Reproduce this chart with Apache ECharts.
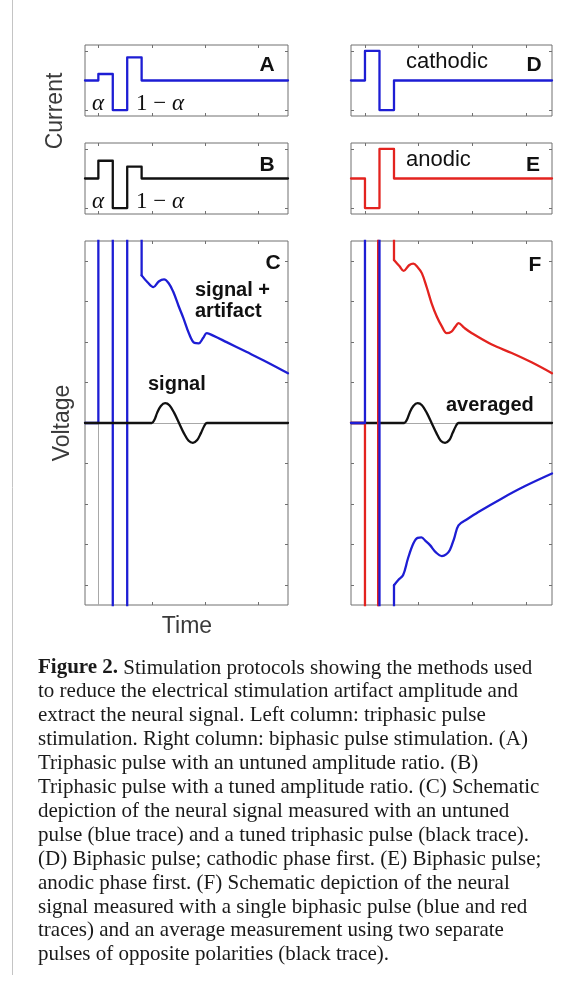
<!DOCTYPE html>
<html>
<head>
<meta charset="utf-8">
<script src="https://cdn.jsdelivr.net/npm/echarts@6/dist/echarts.min.js"></script>
<style>
html, body { margin: 0; padding: 0; background: #fff; }
#chart { width: 561px; height: 987px; }
</style>
</head>
<body>
<div id="chart"></div>
<script>
// phase edges of the stimulation pulses (time units, one tick = 1)
var phaseEdges = [0, 0.27, 0.54, 0.81];
var phaseEdgesRedF = [0, 0.245, 0.54];
// pulse amplitudes per phase
var ampA = [0.22, -1, 0.78];
var ampB = [0.6, -1, 0.4];
var ampD = [1, -1];
var ampE = [-1, 1];
// off-scale level used for the saturated artifact
var rail = 50;
var artifactC = [rail, -rail, rail];
var artifactBlueF = [rail, -rail];
var artifactRedF = [-rail, rail];

// tick values
var ticksX = [0, 1, 2, 3];
var ticksSmallY = [-1, 0, 1];
var ticksBigY = [-4, -3, -2, -1, 0, 1, 2, 3, 4];

// panel C: signal + artifact (blue) and tuned signal (black)
var curveC = [[0.81, 3.65], [0.92, 3.48], [1.03, 3.36], [1.13, 3.5], [1.23, 3.55], [1.32, 3.45],
  [1.4, 3.25], [1.5, 2.9], [1.59, 2.6], [1.7, 2.2], [1.8, 1.98], [1.88, 1.97], [1.96, 2.1],
  [2.03, 2.22], [2.15, 2.16], [2.4, 2.0], [2.77, 1.76], [3.15, 1.51], [3.55, 1.23]];
var signalC = [[1.0, 0], [1.05, 0.08], [1.1, 0.25], [1.17, 0.42], [1.25, 0.49], [1.33, 0.44],
  [1.42, 0.25], [1.51, 0], [1.6, -0.25], [1.69, -0.44], [1.77, -0.49], [1.85, -0.42],
  [1.92, -0.25], [1.98, -0.08], [2.03, 0]];

// panel F: anodic-first (red), cathodic-first (blue), averaged (black)
var curveRedF = [[0.54, 4.03], [0.64, 3.88], [0.72, 3.76], [0.82, 3.9], [0.9, 3.94], [0.98, 3.85],
  [1.06, 3.7], [1.15, 3.35], [1.24, 2.96], [1.34, 2.62], [1.43, 2.39], [1.52, 2.22],
  [1.61, 2.26], [1.68, 2.38], [1.74, 2.47], [1.85, 2.35], [1.99, 2.22], [2.36, 1.94],
  [2.73, 1.73], [3.1, 1.5], [3.48, 1.23]];
var curveBlueF = [[0.54, -4.01], [0.62, -3.88], [0.71, -3.76], [0.8, -3.35], [0.9, -2.98],
  [0.98, -2.84], [1.05, -2.83], [1.13, -2.92], [1.21, -3.02], [1.32, -3.2], [1.43, -3.29],
  [1.51, -3.25], [1.58, -3.14], [1.66, -2.85], [1.74, -2.53], [1.9, -2.38], [2.11, -2.2],
  [2.54, -1.87], [2.98, -1.56], [3.48, -1.25]];
var signalF = [[0.73, 0], [0.78, 0.08], [0.83, 0.25], [0.9, 0.42], [0.98, 0.49], [1.06, 0.44],
  [1.15, 0.25], [1.24, 0], [1.33, -0.25], [1.41, -0.44], [1.49, -0.49], [1.57, -0.42],
  [1.63, -0.25], [1.69, -0.08], [1.74, 0]];

var captionLines = [
  '{b|Figure 2.} Stimulation protocols showing the methods used',
  'to reduce the electrical stimulation artifact amplitude and',
  'extract the neural signal. Left column: triphasic pulse',
  'stimulation. Right column: biphasic pulse stimulation. (A)',
  'Triphasic pulse with an untuned amplitude ratio. (B)',
  'Triphasic pulse with a tuned amplitude ratio. (C) Schematic',
  'depiction of the neural signal measured with an untuned',
  'pulse (blue trace) and a tuned triphasic pulse (black trace).',
  '(D) Biphasic pulse; cathodic phase first. (E) Biphasic pulse;',
  'anodic phase first. (F) Schematic depiction of the neural',
  'signal measured with a single biphasic pulse (blue and red',
  'traces) and an average measurement using two separate',
  'pulses of opposite polarities (black trace).'
];

var BLUE = '#1d1dd4', RED = '#e3231f', BLACK = '#111111', GRAY = '#707070';
var SANS = "'Liberation Sans', Arial, sans-serif";
var SERIF = "'Liberation Serif', 'Times New Roman', serif";

var xRangeL = [-0.25, 3.55], xRangeR = [-0.26, 3.48];

// step trace: baseline, phases, back to baseline
function steps(edges, levels, x0, x1) {
  var d = [[x0, 0], [edges[0], 0]];
  for (var i = 0; i < levels.length; i++) {
    d.push([edges[i], levels[i]], [edges[i + 1], levels[i]]);
  }
  d.push([edges[levels.length], 0], [x1, 0]);
  return d;
}
// artifact: baseline then saturated phases, ends at the start of the decay curve
function artifact(edges, levels, x0, curveStart) {
  var d = [[x0, 0], [edges[0], 0]];
  for (var i = 0; i < levels.length; i++) {
    d.push([edges[i], levels[i]], [edges[i + 1], levels[i]]);
  }
  d.push(curveStart);
  return d;
}

var gridBox = [
  { left: 85, top: 45, width: 203, height: 71 },
  { left: 85, top: 143, width: 203, height: 71 },
  { left: 85, top: 241, width: 203, height: 364 },
  { left: 351, top: 45, width: 201, height: 71 },
  { left: 351, top: 143, width: 201, height: 71 },
  { left: 351, top: 241, width: 201, height: 364 }
];

var grids = [], xAxes = [], yAxes = [];
gridBox.forEach(function (g, i) {
  grids.push(Object.assign({ show: true, borderColor: GRAY, borderWidth: 1, backgroundColor: 'transparent' }, g));
  var xr = i < 3 ? xRangeL : xRangeR;
  var big = i % 3 === 2;
  ['bottom', 'top'].forEach(function (pos) {
    xAxes.push({
      type: 'value', gridIndex: i, position: pos, min: xr[0], max: xr[1],
      axisLine: { show: false, onZero: false }, splitLine: { show: false }, axisLabel: { show: false },
      axisTick: { show: true, inside: true, length: 3, customValues: ticksX, lineStyle: { color: GRAY } }
    });
  });
  ['left', 'right'].forEach(function (pos) {
    yAxes.push({
      type: 'value', gridIndex: i, position: pos,
      min: big ? -4.5 : -1.2, max: big ? 4.5 : 1.2,
      axisLine: { show: false, onZero: false }, splitLine: { show: false }, axisLabel: { show: false },
      axisTick: { show: true, inside: true, length: 3, customValues: big ? ticksBigY : ticksSmallY, lineStyle: { color: GRAY } }
    });
  });
});

function line(gi, data, color, smooth, extra) {
  return Object.assign({
    type: 'line', xAxisIndex: gi * 2, yAxisIndex: gi * 2, data: data,
    symbol: 'none', smooth: smooth ? 0.35 : false, clip: true, silent: true,
    lineStyle: { color: color, width: 2.3, join: 'round', cap: 'round' }
  }, extra || {});
}

var zeroLines = {
  silent: true, symbol: ['none', 'none'], z: 1, label: { show: false },
  lineStyle: { color: '#a8a8a8', width: 1, type: 'solid' },
  emphasis: { disabled: true },
  data: [{ yAxis: 0 }, { xAxis: 0 }]
};

var series = [
  line(0, steps(phaseEdges, ampA, xRangeL[0], xRangeL[1]), BLUE),
  line(1, steps(phaseEdges, ampB, xRangeL[0], xRangeL[1]), BLACK),
  line(2, artifact(phaseEdges, artifactC, xRangeL[0], curveC[0]), BLUE, false, { markLine: zeroLines }),
  line(2, curveC, BLUE, true),
  line(2, [[xRangeL[0], 0]].concat(signalC, [[xRangeL[1], 0]]), BLACK, true),
  line(3, steps(phaseEdges.slice(0, 3), ampD, xRangeR[0], xRangeR[1]), BLUE),
  line(4, steps(phaseEdges.slice(0, 3), ampE, xRangeR[0], xRangeR[1]), RED),
  line(5, [[xRangeR[0], 0]].concat(signalF, [[xRangeR[1], 0]]), BLACK, true, { markLine: zeroLines }),
  line(5, artifact(phaseEdgesRedF, artifactRedF, xRangeR[0], curveRedF[0]), RED),
  line(5, curveRedF, RED, true),
  line(5, artifact(phaseEdges.slice(0, 3), artifactBlueF, xRangeR[0], curveBlueF[0]), BLUE),
  line(5, curveBlueF, BLUE, true)
];

function txt(x, y, text, font, opts) {
  opts = opts || {};
  return {
    type: 'text', x: x, y: y, rotation: opts.rotation || 0, silent: true,
    style: {
      text: text, font: font, fill: opts.fill || '#111',
      align: opts.align || 'left', textAlign: opts.align || 'left',
      verticalAlign: 'middle', textVerticalAlign: 'middle',
      rich: opts.rich
    }
  };
}

var graphic = [
  { type: 'line', silent: true, shape: { x1: 12.5, y1: 0, x2: 12.5, y2: 975 }, style: { stroke: '#c4c4c4', lineWidth: 1 } },
  // panel letters
  txt(267, 65, 'A', 'bold 21px ' + SANS, { align: 'center' }),
  txt(267, 165, 'B', 'bold 21px ' + SANS, { align: 'center' }),
  txt(273, 263, 'C', 'bold 21px ' + SANS, { align: 'center' }),
  txt(534, 65, 'D', 'bold 21px ' + SANS, { align: 'center' }),
  txt(533, 165, 'E', 'bold 21px ' + SANS, { align: 'center' }),
  txt(535, 265, 'F', 'bold 21px ' + SANS, { align: 'center' }),
  // phase ratios
  txt(92, 104, 'α', 'italic 23px ' + SERIF),
  txt(136, 104, '1 − {i|α}', '23px ' + SERIF, { rich: { i: { font: 'italic 23px ' + SERIF } } }),
  txt(92, 202, 'α', 'italic 23px ' + SERIF),
  txt(136, 202, '1 − {i|α}', '23px ' + SERIF, { rich: { i: { font: 'italic 23px ' + SERIF } } }),
  // annotations
  txt(406, 62, 'cathodic', '22px ' + SANS),
  txt(406, 160, 'anodic', '22px ' + SANS),
  txt(195, 290, 'signal +', 'bold 20px ' + SANS),
  txt(195, 311, 'artifact', 'bold 20px ' + SANS),
  txt(148, 384, 'signal', 'bold 20px ' + SANS),
  txt(446, 405, 'averaged', 'bold 20px ' + SANS),
  // axis titles
  txt(56, 111, 'Current', '23px ' + SANS, { align: 'center', rotation: Math.PI / 2, fill: '#3a3a3a' }),
  txt(63, 423, 'Voltage', '23px ' + SANS, { align: 'center', rotation: Math.PI / 2, fill: '#3a3a3a' }),
  txt(187, 627, 'Time', '23px ' + SANS, { align: 'center', fill: '#3a3a3a' })
];

captionLines.forEach(function (t, i) {
  graphic.push(txt(38, 668 + 23.9 * i, t, '21px ' + SERIF, {
    fill: '#1a1a1a', rich: { b: { font: 'bold 21px ' + SERIF } }
  }));
});

var chart = echarts.init(document.getElementById('chart'));
chart.setOption({
  animation: false,
  backgroundColor: '#ffffff',
  grid: grids,
  xAxis: xAxes,
  yAxis: yAxes,
  series: series,
  graphic: graphic
});
</script>
</body>
</html>
